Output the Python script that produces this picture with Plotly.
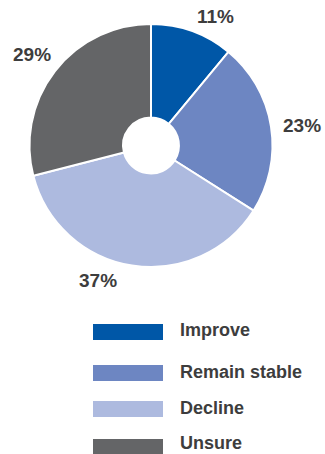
import plotly.graph_objects as go

categories = ["Improve", "Remain stable", "Decline", "Unsure"]
values = [11, 23, 37, 29]
colors = ["#0057A7", "#6D86C2", "#ADBADF", "#646567"]

W, H = 325, 454

# label centres (px) for percent labels
label_pos = [(215, 17), (302, 125), (98, 280), (32, 55)]
# legend swatch rows (top, bottom in px)
legend_rows = [(324, 340), (365, 381), (401, 417), (439, 454)]
legend_text_y = [330, 372, 408, 443]

def px(x):
    return x / W

def py(y):
    return 1 - y / H

fig = go.Figure()
fig.add_trace(go.Pie(
    labels=categories,
    values=values,
    marker=dict(colors=colors, line=dict(color="white", width=2)),
    sort=False,
    direction="clockwise",
    rotation=0,
    hole=0.23,
    textinfo="none",
    hoverinfo="label+percent",
    showlegend=False,
    domain=dict(x=[px(29), px(273)], y=[py(267), py(24)]),
))

annotations = []
for v, (lx, ly) in zip(values, label_pos):
    annotations.append(dict(
        x=px(lx), y=py(ly), xref="paper", yref="paper",
        text=f"{v}%", showarrow=False, xanchor="center", yanchor="middle",
        font=dict(family="Liberation Sans, Arial, sans-serif", size=19, color="#3d3d3d", weight="bold"),
    ))

shapes = []
for cat, col, (t, b), ty in zip(categories, colors, legend_rows, legend_text_y):
    shapes.append(dict(
        type="rect", xref="paper", yref="paper",
        x0=px(93), x1=px(163), y0=py(b), y1=py(t),
        fillcolor=col, line=dict(width=0),
    ))
    annotations.append(dict(
        x=px(179), y=py(ty), xref="paper", yref="paper",
        text=cat, showarrow=False, xanchor="left", yanchor="middle",
        borderpad=0,
        font=dict(family="Liberation Sans, Arial, sans-serif", size=18, color="#3d3d3d", weight="bold"),
    ))

fig.update_layout(
    width=W, height=H,
    margin=dict(l=0, r=0, t=0, b=0),
    paper_bgcolor="white",
    plot_bgcolor="white",
    annotations=annotations,
    shapes=shapes,
)

fig.write_html(
    "out.html",
    config={"displayModeBar": False},
    post_script="document.body.style.margin='0';document.body.style.overflow='hidden';",
)
